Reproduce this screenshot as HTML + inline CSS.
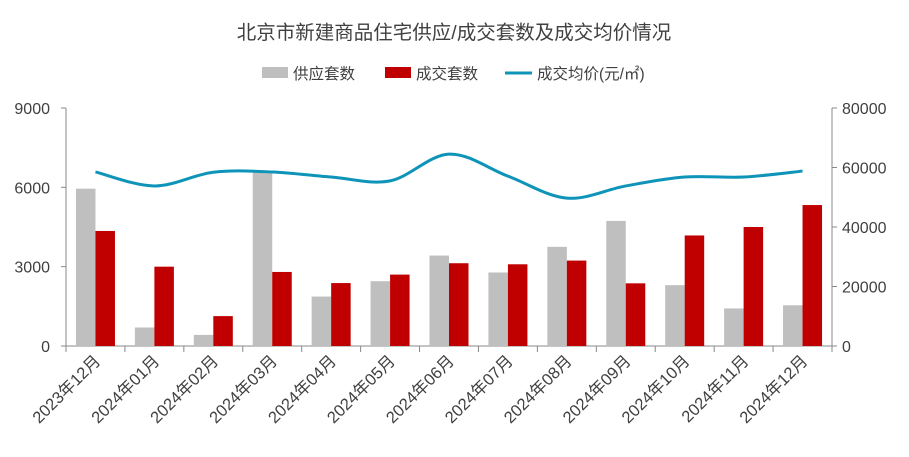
<!DOCTYPE html>
<html><head><meta charset="utf-8"><style>
body{margin:0;background:#fff}
svg text{font-family:"Liberation Sans","Noto Sans CJK SC",sans-serif;fill:#404040}
</style></head><body>
<svg id="c" width="909" height="452">
<text x="454" y="39" text-anchor="middle" font-size="19.5">北京市新建商品住宅供应/成交套数及成交均价情况</text>
<g>
<rect x="262" y="67" width="26" height="11" fill="#bfbfbf"/>
<text x="293" y="79" font-size="15.5">供应套数</text>
<rect x="385" y="67" width="26" height="11" fill="#c00000"/>
<text x="416" y="79" font-size="15.5">成交套数</text>
<line x1="505" y1="73" x2="532" y2="73" stroke="#0e94b8" stroke-width="3"/>
<text x="537" y="79" font-size="15.5">成交均价(元/㎡)</text>
</g>
<g id="g"></g>
</svg>
<script>
const categories=["2023年12月","2024年01月","2024年02月","2024年03月","2024年04月","2024年05月","2024年06月","2024年07月","2024年08月","2024年09月","2024年10月","2024年11月","2024年12月"];
const supply=[5950,700,420,6580,1870,2450,3420,2780,3750,4730,2300,1420,1540];
const deals=[4350,3000,1130,2800,2380,2700,3130,3090,3230,2370,4180,4500,5330];
const price=[58500,53800,58400,58500,56800,55500,64500,57100,49700,53800,56800,56800,58800];
const leftTicks=[0,3000,6000,9000];
const rightTicks=[0,20000,40000,60000,80000];
const X0=66,X1=832,Y0=346,Y1=108,n=categories.length,bw=(X1-X0)/n;
const yl=v=>Y0-(v/9000)*(Y0-Y1), yr=v=>Y0-(v/80000)*(Y0-Y1), xc=i=>X0+bw*(i+0.5);
const g=document.getElementById('g'),NS="http://www.w3.org/2000/svg";
function mk(t,a,txt){const e=document.createElementNS(NS,t);for(const k in a)e.setAttribute(k,a[k]);if(txt!=null)e.textContent=txt;g.appendChild(e);return e;}
let e;
e=mk('line',{x1:X0,y1:Y1,x2:X0,y2:Y0,stroke:'#888'});


e=mk('line',{x1:X1,y1:Y1,x2:X1,y2:Y0,stroke:'#888'});


e=mk('line',{x1:X0,y1:Y0,x2:X1,y2:Y0,stroke:'#888'});


leftTicks.forEach(v=>{const y=yl(v);
e=mk('line',{x1:X0-5,y1:y,x2:X0,y2:y,stroke:'#888'});


e=mk('text',{x:X0-16,y:y+6,'text-anchor':'end','font-size':16},v);

});
rightTicks.forEach(v=>{const y=yr(v);
e=mk('line',{x1:X1,y1:y,x2:X1+5,y2:y,stroke:'#888'});


e=mk('text',{x:X1+10,y:y+6,'font-size':16},v);

});
for(let i=0;i<=n;i++){const x=X0+bw*i;
e=mk('line',{x1:x,y1:Y0,x2:x,y2:Y0+6,stroke:'#888'});

}
categories.forEach((c,i)=>{const x=xc(i);
e=mk('rect',{x:x-19.5,y:yl(supply[i]),width:19.5,height:Y0-yl(supply[i]),fill:'#bfbfbf'});


e=mk('rect',{x:x,y:yl(deals[i]),width:19.5,height:Y0-yl(deals[i]),fill:'#c00000'});


e=mk('text',{x:0,y:0,'text-anchor':'end','font-size':16.5,transform:`translate(${x+6},${Y0+16}) rotate(-45)`},c);

});
const pts=price.map((v,i)=>[xc(i),yr(v)]);
let d=`M${pts[0][0]},${pts[0][1]}`;
for(let i=0;i<pts.length-1;i++){const p0=pts[Math.max(0,i-1)],p1=pts[i],p2=pts[i+1],p3=pts[Math.min(pts.length-1,i+2)];
d+=` C${p1[0]+(p2[0]-p0[0])/6},${p1[1]+(p2[1]-p0[1])/6} ${p2[0]-(p3[0]-p1[0])/6},${p2[1]-(p3[1]-p1[1])/6} ${p2[0]},${p2[1]}`;}
e=mk('path',{d:d,fill:'none',stroke:'#0e94b8','stroke-width':3});


</script>
</body></html>
